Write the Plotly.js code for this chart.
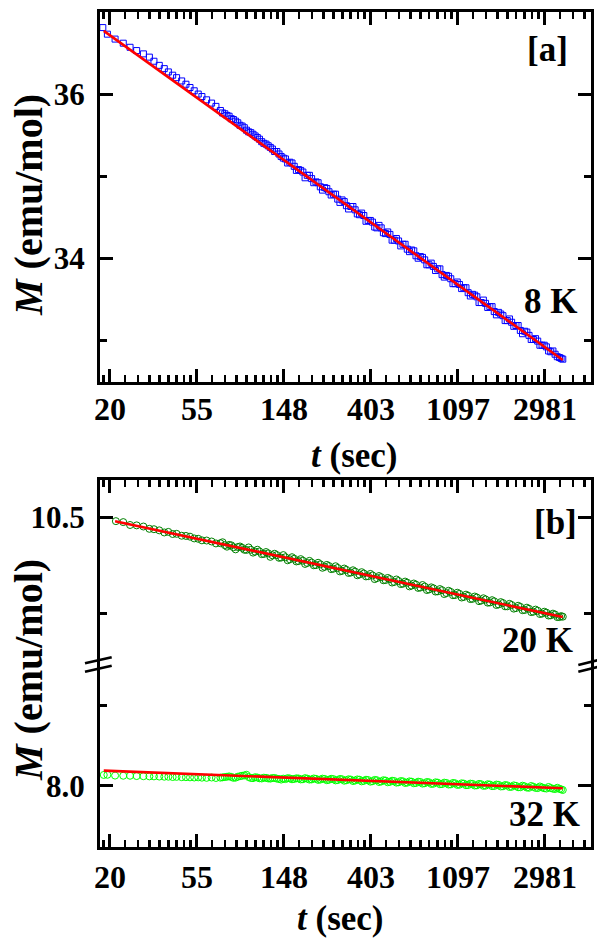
<!DOCTYPE html>
<html><head><meta charset="utf-8">
<script src="https://cdn.plot.ly/plotly-3.0.1.min.js"></script>
<style>html,body{margin:0;padding:0;background:#fff;}#chart{width:597px;height:940px;}</style>
</head><body><div id="chart"></div>
<script>
// ---- data (t in sec, M in emu/mol) ----
const t8K = [18.5,19.5,21.3,23.4,25.3,27.3,29.5,31.6,33.3,35.4,37.5,39.3,41.3,43.2,45.8,48.1,50.4,52.9,55.4,57.8,61.0,64.6,67.9,71.5,75.2,79,83,87.3,91.8,96.5,101.4,106.6,112,117.8,123.8,130,136.7,143.7,151,158.8,167,175.5,184.5,194,204,214.4,225.4,237,249,262,275.4,289.5,304.3,320,336.4,353.6,371.7,390.8,410.8,431.8,454,477.2,501.7,527.4,554.4,582.8,612.7,644,677,711.8,748.3,786.6,827,869.3,913.8,960.7,1010,1061.7,1116,1173.3,1233.4,1296.6,1363,1432.9,1506.4,1583.6,1664.7,1750,1839.7,1934,2033,2137.3,2246.8,2362,2483,2610,2744,2884.6,3032.4,3187.8,3351,3523,3660];
const M8K = [36.81,36.73,36.67,36.62,36.57,36.53,36.49,36.45,36.40,36.35,36.31,36.27,36.23,36.20,36.16,36.12,36.08,36.04,36.00,35.97,35.93,35.89,35.85,35.80,35.76,35.73,35.69,35.65,35.61,35.56,35.53,35.49,35.45,35.40,35.37,35.33,35.30,35.24,35.21,35.17,35.12,35.08,35.05,35.01,34.97,34.93,34.87,34.86,34.81,34.78,34.72,34.71,34.64,34.63,34.59,34.53,34.52,34.46,34.44,34.37,34.37,34.30,34.29,34.22,34.21,34.17,34.11,34.10,34.03,34.02,33.98,33.92,33.90,33.87,33.80,33.79,33.75,33.69,33.68,33.64,33.58,33.56,33.53,33.46,33.45,33.41,33.35,33.34,33.30,33.24,33.22,33.18,33.12,33.11,33.06,33.01,32.99,32.94,32.92,32.86,32.83,32.79,32.77];
const fitT8K = [18.7, 3660];
const fitM8K = [36.77, 32.76];

const t20K = [21.5,23.4,25.3,27.3,29.5,31.6,33.3,35.4,37.5,39.3,41.3,43.2,45.8,48.1,50.4,52.9,55.4,57.8,61.0,64.6,67.9,71.5,75.2,79,83,87.3,91.8,96.5,101.4,106.6,112,117.8,123.8,130,136.7,143.7,151,158.8,167,175.5,184.5,194,204,214.4,225.4,237,249,262,275.4,289.5,304.3,320,336.4,353.6,371.7,390.8,410.8,431.8,454,477.2,501.7,527.4,554.4,582.8,612.7,644,677,711.8,748.3,786.6,827,869.3,913.8,960.7,1010,1061.7,1116,1173.3,1233.4,1296.6,1363,1432.9,1506.4,1583.6,1664.7,1750,1839.7,1934,2033,2137.3,2246.8,2362,2483,2610,2744,2884.6,3032.4,3187.8,3351,3523,3660];
const M20K = [10.48,10.475,10.46,10.458,10.452,10.440,10.438,10.432,10.421,10.424,10.413,10.414,10.404,10.403,10.399,10.390,10.388,10.380,10.379,10.374,10.364,10.365,10.355,10.356,10.344,10.345,10.341,10.330,10.331,10.321,10.322,10.309,10.312,10.302,10.303,10.290,10.292,10.281,10.284,10.272,10.274,10.262,10.264,10.251,10.255,10.242,10.246,10.232,10.236,10.221,10.226,10.212,10.217,10.202,10.207,10.193,10.197,10.183,10.188,10.173,10.178,10.163,10.168,10.154,10.159,10.144,10.149,10.134,10.139,10.124,10.130,10.114,10.120,10.105,10.111,10.095,10.101,10.085,10.091,10.075,10.082,10.066,10.072,10.056,10.062,10.046,10.053,10.036,10.043,10.027,10.033,10.017,10.023,10.008,10.013,9.998,10.003,9.989,9.993,9.980,9.982];
const fitT20K = [21.3, 3660];
const fitM20K = [10.480, 9.980];

const t32K = [18.7,19.5,21.3,23.4,25.3,27.3,29.5,31.6,33.3,35.4,37.5,39.3,41.3,43.2,45.8,48.1,50.4,52.9,55.4,57.8,61.0,64.6,67.9,71.5,75.2,79,83,87.3,91.8,96.5,101.4,106.6,112,117.8,123.8,130,136.7,143.7,151,158.8,167,175.5,184.5,194,204,214.4,225.4,237,249,262,275.4,289.5,304.3,320,336.4,353.6,371.7,390.8,410.8,431.8,454,477.2,501.7,527.4,554.4,582.8,612.7,644,677,711.8,748.3,786.6,827,869.3,913.8,960.7,1010,1061.7,1116,1173.3,1233.4,1296.6,1363,1432.9,1506.4,1583.6,1664.7,1750,1839.7,1934,2033,2137.3,2246.8,2362,2483,2610,2744,2884.6,3032.4,3187.8,3351,3523,3660];
const M32K = [8.069,8.070,8.065,8.064,8.064,8.062,8.061,8.060,8.060,8.059,8.058,8.058,8.056,8.057,8.055,8.055,8.054,8.053,8.054,8.052,8.051,8.053,8.050,8.052,8.056,8.060,8.051,8.058,8.064,8.070,8.050,8.055,8.048,8.052,8.047,8.050,8.046,8.040,8.043,8.047,8.044,8.047,8.042,8.046,8.041,8.045,8.040,8.044,8.039,8.043,8.037,8.042,8.036,8.040,8.034,8.039,8.032,8.037,8.030,8.036,8.028,8.034,8.026,8.031,8.023,8.029,8.021,8.027,8.019,8.025,8.017,8.023,8.014,8.021,8.012,8.019,8.010,8.017,8.008,8.015,8.006,8.013,8.004,8.011,8.002,8.009,8.000,8.007,7.998,8.004,7.995,8.001,7.992,7.998,7.989,7.995,7.987,7.991,7.984,7.987,7.981,7.982,7.975];
const fitT32K = [18.7, 3660];
const fitM32K = [8.096, 7.986];

// additional (denser) readings at later times, shared time stamps
const tMid = [73.3,77.1,81.0,85.1,89.5,94.1,98.9,104.0,109.3,114.9,120.8,126.9,133.3,140.2,147.3,154.9,162.8,171.2,179.9,189.2,198.9,209.1,219.8,231.1,242.9,255.4,268.6,282.4,296.8,312.0,328.1,344.9,362.5,381.1,400.7,421.2,442.8,465.5,489.3,514.4,540.7,568.4,597.6,628.2,660.3,694.2,729.8,767.2,806.6,847.9,891.3,937.0,985.0,1035.5,1088.5,1144.3,1203.0,1264.6,1329.4,1397.5,1469.2,1544.5,1623.6,1706.8,1794.3,1886.3,1982.9,2084.5,2191.3,2303.7,2421.7,2545.7,2676.2,2813.5,2957.6,3109.1,3268.4,3435.9,3590.8];
const M8Kmid = [35.77,35.74,35.70,35.67,35.62,35.59,35.54,35.51,35.47,35.42,35.39,35.35,35.30,35.27,35.22,35.16,35.16,35.07,35.07,34.98,35.01,34.92,34.92,34.83,34.85,34.77,34.78,34.68,34.69,34.60,34.63,34.54,34.55,34.45,34.46,34.38,34.40,34.31,34.32,34.22,34.24,34.15,34.17,34.08,34.09,34.00,34.01,33.92,33.94,33.85,33.87,33.77,33.78,33.69,33.71,33.63,33.64,33.54,33.55,33.46,33.49,33.40,33.41,33.31,33.32,33.24,33.26,33.17,33.18,33.08,33.10,33.01,33.02,32.94,32.94,32.87,32.87,32.80,32.78];
const M20Kmid = [10.370,10.347,10.354,10.333,10.348,10.331,10.343,10.316,10.331,10.308,10.319,10.294,10.310,10.289,10.303,10.276,10.292,10.270,10.282,10.257,10.273,10.250,10.263,10.237,10.252,10.230,10.245,10.218,10.233,10.210,10.224,10.198,10.214,10.192,10.205,10.178,10.194,10.172,10.184,10.160,10.176,10.152,10.165,10.140,10.155,10.132,10.147,10.121,10.135,10.113,10.126,10.100,10.117,10.094,10.107,10.082,10.097,10.074,10.087,10.063,10.078,10.055,10.068,10.043,10.058,10.036,10.049,10.024,10.039,10.016,10.029,10.006,10.019,9.996,10.008,9.988,9.998,9.980,9.985];
const M32Kmid = [8.054,8.058,8.057,8.052,8.061,8.066,8.056,8.049,8.053,8.047,8.051,8.046,8.050,8.044,8.046,8.049,8.042,8.048,8.041,8.049,8.040,8.047,8.038,8.046,8.036,8.045,8.035,8.044,8.033,8.042,8.031,8.041,8.029,8.039,8.027,8.038,8.025,8.036,8.023,8.033,8.021,8.031,8.019,8.029,8.017,8.027,8.015,8.025,8.013,8.023,8.011,8.021,8.009,8.019,8.007,8.017,8.005,8.015,8.003,8.013,8.001,8.011,7.999,8.009,7.997,8.006,7.994,8.004,7.992,8.002,7.990,8.000,7.988,7.997,7.986,7.994,7.983,7.989,7.979];

// ---- tick labels ----
const xTickExps = [3,4,5,6,7,8];          // ticks at e^n
const xTickLabels = ['20','55','148','403','1097','2981'];
const yTopTicks = [34,36], yTopLabels = ['34','36'], yTopMinor = [33,35];
const yB1Ticks = [10.5], yB1Labels = ['10.5'], yB1Minor = [10.0];
const yB2Ticks = [8.0], yB2Labels = ['8.0'], yB2Minor = [8.5];

const FONT = "'Liberation Serif', 'Times New Roman', serif";
const majorX = xTickExps.map(n => Math.exp(n));
const minorX = [];
for (let n = 2; n <= 8; n++) {
  const a = Math.exp(n), b = Math.exp(n + 1);
  for (let k = 1; k <= 8; k++) minorX.push(a + k * (b - a) / 9);
}
const XR = [1.2531, 3.7044];
const tickFont = {family: FONT, size: 32, color: '#000', weight: 700};

function xAx(extra) {
  return Object.assign({
    type: 'log', range: XR, showline: true, linewidth: 3, linecolor: '#000',
    ticks: 'inside', ticklen: 13, tickwidth: 3, tickcolor: '#000',
    tickmode: 'array', tickvals: majorX, ticktext: xTickLabels,
    showgrid: false, zeroline: false, tickfont: tickFont, ticklabelstandoff: 0,
    minor: {tickmode: 'array', tickvals: minorX, ticks: 'inside', ticklen: 7, tickwidth: 2.5, tickcolor: '#000', showgrid: false}
  }, extra);
}
function yAx(extra, tv, tt, mv) {
  return Object.assign({
    showline: true, linewidth: 3, linecolor: '#000', mirror: 'ticks',
    ticks: 'inside', ticklen: 13, tickwidth: 3, tickcolor: '#000',
    tickmode: 'array', tickvals: tv, ticktext: tt,
    showgrid: false, zeroline: false, tickfont: Object.assign({}, tickFont, {size: 31}), ticklabelstandoff: 6,
    minor: {tickmode: 'array', tickvals: mv, ticks: 'inside', ticklen: 7, tickwidth: 3, tickcolor: '#000', showgrid: false}
  }, extra);
}

const sq = {symbol: 'square-open', size: 6, color: '#0000FF', line: {width: 1, color: '#0000FF'}};
const cDark = {symbol: 'circle-open', size: 7, color: '#008000', line: {width: 1, color: '#008000'}};
const cLight = {symbol: 'circle-open', size: 7, color: '#00FF00', line: {width: 1, color: '#00FF00'}};
const fitLine = {color: '#FF0000', width: 2.6};

const traces = [
  {x: t8K.concat(tMid), y: M8K.concat(M8Kmid), xaxis: 'x', yaxis: 'y', type: 'scatter', mode: 'markers', marker: sq},
  {x: fitT8K, y: fitM8K, xaxis: 'x', yaxis: 'y', type: 'scatter', mode: 'lines', line: fitLine},
  {x: t20K.concat(tMid), y: M20K.concat(M20Kmid), xaxis: 'x3', yaxis: 'y2', type: 'scatter', mode: 'markers', marker: cDark},
  {x: fitT20K, y: fitM20K, xaxis: 'x3', yaxis: 'y2', type: 'scatter', mode: 'lines', line: fitLine},
  {x: t32K.concat(tMid), y: M32K.concat(M32Kmid), xaxis: 'x2', yaxis: 'y3', type: 'scatter', mode: 'markers', marker: cLight},
  {x: fitT32K, y: fitM32K, xaxis: 'x2', yaxis: 'y3', type: 'scatter', mode: 'lines', line: fitLine}
];

const P = (px) => (px - 100) / 491;      // helper: paper x from pixel (layout only)
const Q = (py) => (847 - py) / 835;      // helper: paper y from pixel (layout only)
const annFont = {family: FONT, size: 35, color: '#000', weight: 700};
const titleFontX = {family: FONT, size: 35, color: '#000', weight: 700};
const titleFontY = {family: FONT, size: 40, color: '#000', weight: 700};
const ann = (text, x, y, font, extra) => Object.assign({text, x: P(x), y: Q(y), xref: 'paper', yref: 'paper', showarrow: false, xanchor: 'center', yanchor: 'middle', font}, extra || {});

const layout = {
  width: 597, height: 940,
  margin: {l: 100, r: 6, t: 12, b: 93},
  paper_bgcolor: '#fff', plot_bgcolor: '#fff',
  showlegend: false,
  xaxis: xAx({domain: [0, 1], anchor: 'y', mirror: 'ticks', ticklabelstandoff: -3}),
  yaxis: yAx({domain: [0.5572, 1], anchor: 'x', range: [32.495, 37.0]}, yTopTicks, yTopLabels, yTopMinor),
  xaxis2: xAx({domain: [0, 1], anchor: 'y3', ticklabelstandoff: 0}),
  xaxis3: xAx({domain: [0, 1], anchor: 'y2', side: 'top', matches: 'x2', showticklabels: false}),
  yaxis2: yAx({domain: [0.2186, 0.4401], anchor: 'x3', range: [9.733, 10.697]}, yB1Ticks, yB1Labels, yB1Minor),
  yaxis3: yAx({domain: [0, 0.2186], anchor: 'x2', range: [7.619, 8.759]}, yB2Ticks, yB2Labels, yB2Minor),
  annotations: [
    ann('[a]', 547, 50, annFont),
    ann('8 K', 550, 302, annFont),
    ann('[b]', 555, 522, annFont),
    ann('20 K', 537, 640, annFont),
    ann('32 K', 544, 814, annFont),
    ann('<b><i>t</i> (sec)</b>', 354, 455, titleFontX),
    ann('<b><i>t</i> (sec)</b>', 340, 918, titleFontX),
    ann('<b><i>M</i> (emu/mol)</b>', 28, 205, titleFontY, {textangle: -90}),
    ann('<b><i>M</i> (emu/mol)</b>', 28, 670, titleFontY, {textangle: -90})
  ],
  shapes: [
    {type: 'line', xref: 'paper', yref: 'paper', x0: P(85), y0: Q(663.3), x1: P(111.7), y1: Q(657.3), line: {color: '#000', width: 2.7}},
    {type: 'line', xref: 'paper', yref: 'paper', x0: P(85), y0: Q(671.7), x1: P(111.7), y1: Q(665.7), line: {color: '#000', width: 2.7}},
    {type: 'line', xref: 'paper', yref: 'paper', x0: P(578.3), y0: Q(665), x1: P(598.3), y1: Q(660), line: {color: '#000', width: 2.7}},
    {type: 'line', xref: 'paper', yref: 'paper', x0: P(578.3), y0: Q(671.7), x1: P(598.3), y1: Q(666.7), line: {color: '#000', width: 2.7}}
  ]
};

Plotly.newPlot('chart', traces, layout, {displayModeBar: false, staticPlot: true});
</script>
</body></html>
